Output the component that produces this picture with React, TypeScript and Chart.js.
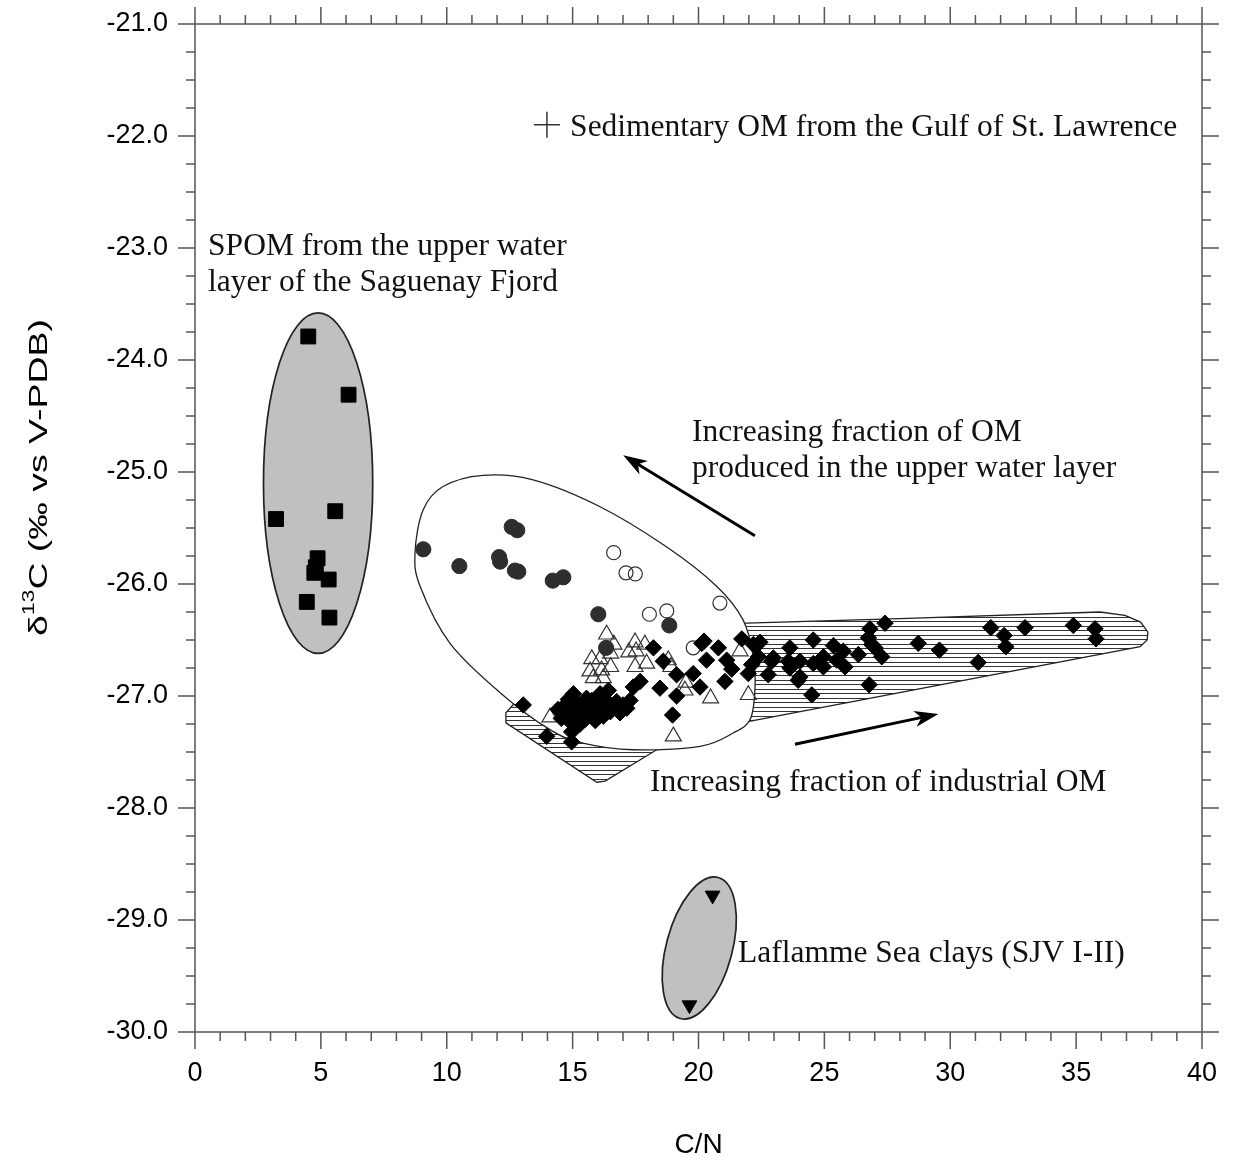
import React, { useEffect, useRef } from 'react';
import { Chart, registerables } from 'chart.js';

Chart.register(...registerables);

// ---- axes ----
const X_MIN = 0;
const X_MAX = 40;
const X_MAJOR = 5;
const X_MINOR_PER_MAJOR = 5;
const Y_MIN = -30;
const Y_MAX = -21;
const Y_MAJOR = 1;
const Y_MINOR_PER_MAJOR = 4;

const X_TITLE = 'C/N';
const Y_TITLE_PARTS = [
  { text: 'δ', sup: false },
  { text: '13', sup: true },
  { text: 'C (‰ vs V-PDB)', sup: false },
];

// ---- data (C/N, δ13C) ----
const spomSquares: [number, number][] = [
  [4.5, -23.79], [6.1, -24.31], [3.22, -25.42], [5.57, -25.35], [4.87, -25.77],
  [4.8, -25.85], [4.74, -25.9], [5.31, -25.96], [4.44, -26.16], [5.34, -26.3],
];

const filledCircles: [number, number][] = [
  [9.07, -25.69], [10.5, -25.84], [12.58, -25.49], [12.8, -25.52], [12.08, -25.76],
  [12.12, -25.8], [12.71, -25.88], [12.84, -25.89], [14.21, -25.97], [14.63, -25.94],
  [16.02, -26.27], [18.84, -26.37], [16.33, -26.57],
];

const openCircles: [number, number][] = [
  [16.63, -25.72], [17.12, -25.9], [17.49, -25.91], [18.05, -26.27], [18.74, -26.24],
  [20.85, -26.17], [19.79, -26.57],
];

const openTriangles: [number, number][] = [
  [16.35, -26.45], [16.64, -26.54], [15.76, -26.67], [16.09, -26.67], [16.51, -26.62],
  [15.69, -26.78], [16.15, -26.77], [16.51, -26.74], [15.82, -26.84], [16.22, -26.84],
  [17.48, -26.52], [17.87, -26.54], [17.23, -26.61], [17.52, -26.6], [17.48, -26.74],
  [17.94, -26.71], [18.8, -26.68], [18.9, -26.74], [19.5, -26.88], [19.46, -26.95],
  [20.48, -27.02], [21.98, -26.99], [14.1, -27.19], [19.0, -27.36], [21.65, -26.6],
];

const diamonds: [number, number][] = [
  [13.04, -27.08], [13.97, -27.36], [14.96, -27.41], [14.96, -27.32],
  [14.42, -27.12], [14.55, -27.2], [14.7, -27.08], [14.76, -27.16], [14.83, -27.03],
  [14.9, -27.23], [15.03, -26.98], [15.05, -27.12], [15.16, -27.19], [15.25, -27.08],
  [15.3, -27.25], [15.42, -27.1], [15.49, -27.21], [15.55, -27.02], [15.62, -27.15],
  [15.76, -27.04], [15.82, -27.15], [15.9, -27.22], [16.0, -27.08], [16.09, -26.98],
  [16.15, -27.12], [16.22, -27.18], [16.3, -27.03], [16.42, -26.95], [16.5, -27.14],
  [16.62, -27.1], [16.75, -27.05], [16.88, -27.15], [17.0, -27.08], [17.15, -27.11],
  [17.28, -27.04], [17.41, -26.92], [17.68, -26.87],
  [18.21, -26.57], [18.6, -26.69], [19.13, -26.81], [18.47, -26.93], [19.13, -27.0],
  [18.97, -27.17], [19.79, -26.8], [20.06, -26.92], [20.22, -26.51], [20.32, -26.68],
  [20.79, -26.57], [21.12, -26.68], [21.32, -26.76], [21.05, -26.87], [21.72, -26.49],
  [21.98, -26.8], [22.18, -26.54], [22.44, -26.52], [22.38, -26.65], [22.11, -26.72],
  [22.77, -26.81], [22.97, -26.66], [22.91, -26.69], [20.13, -26.53],
  [23.63, -26.57], [23.57, -26.69], [23.63, -26.75], [24.03, -26.83], [23.96, -26.86],
  [24.03, -26.69], [24.56, -26.5], [24.5, -26.99], [24.56, -26.71], [24.96, -26.65],
  [24.96, -26.74], [25.36, -26.55], [25.49, -26.68], [25.75, -26.6], [25.82, -26.74],
  [26.35, -26.63], [26.81, -26.4], [27.41, -26.35], [26.75, -26.48], [26.88, -26.54],
  [27.01, -26.57], [27.28, -26.65], [26.78, -26.9], [28.73, -26.53], [29.57, -26.59],
  [31.11, -26.7], [31.61, -26.39], [32.14, -26.46], [32.21, -26.56], [32.97, -26.39],
  [34.89, -26.37], [35.75, -26.4], [35.79, -26.49],
];

const laflammeTriangles: [number, number][] = [[20.56, -28.78], [19.64, -29.76]];

const gulfMarker: [number, number][] = [[13.98, -21.9]];

// ---- envelopes (data coordinates) ----
const spomEllipse = { cx: 4.89, cy: -25.1, rx: 2.17, ry: 1.52, tiltDeg: 0 };
const laflammeEllipse = { cx: 20.03, cy: -29.25, rx: 1.31, ry: 0.652, tiltDeg: 15 };

const omEnvelope: [number, number][] = [
  [11.44, -25.03], [13.43, -25.07], [16.09, -25.31], [18.74, -25.67], [20.72, -26.02],
  [21.77, -26.32], [22.18, -26.65], [22.24, -26.95], [22.05, -27.21], [21.38, -27.33],
  [20.06, -27.45], [17.4, -27.48], [15.41, -27.42], [14.1, -27.3], [12.12, -26.97],
  [10.13, -26.53], [8.94, -26.02], [8.74, -25.72], [9.06, -25.34], [9.85, -25.13],
];

const industrialEnvelope: [number, number][] = [
  [12.71, -27.06], [12.35, -27.15], [12.35, -27.24], [15.96, -27.77], [16.29, -27.76],
  [18.34, -27.48], [21.91, -27.23], [37.54, -26.56], [37.82, -26.5], [37.85, -26.43],
  [37.56, -26.34], [36.94, -26.28], [35.95, -26.25], [28.0, -26.31], [21.91, -26.35],
  [20.06, -26.41],
];

// ---- annotations ----
const labels = [
  { x: 14.9, y: -22.0, lines: ['Sedimentary OM from the Gulf of St. Lawrence'] },
  { x: 0.52, y: -23.06, lines: ['SPOM from the upper water', 'layer of the Saguenay Fjord'] },
  { x: 19.74, y: -24.72, lines: ['Increasing fraction of OM', 'produced in the upper water layer'] },
  { x: 18.07, y: -27.85, lines: ['Increasing fraction of industrial OM'] },
  { x: 21.57, y: -29.375, lines: ['Laflamme Sea clays (SJV I-II)'] },
];

const arrows = [
  { from: [22.24, -25.57], to: [17.01, -24.85] },
  { from: [23.83, -27.43], to: [29.53, -27.16] },
];

const AXIS_COLOR = '#555';
const SANS = "'Liberation Sans', Arial, Helvetica, sans-serif";
const SERIF = "'Liberation Serif', 'Times New Roman', serif";
const LABEL_FONT_SIZE = 31.5;
const LABEL_LINE_GAP = 36.5;

function toPx(chart: any, x: number, y: number): [number, number] {
  return [chart.scales.x.getPixelForValue(x), chart.scales.y.getPixelForValue(y)];
}

function smoothClosedPath(ctx: CanvasRenderingContext2D, pts: [number, number][]) {
  const n = pts.length;
  ctx.moveTo(pts[0][0], pts[0][1]);
  for (let i = 0; i < n; i++) {
    const p0 = pts[(i - 1 + n) % n];
    const p1 = pts[i];
    const p2 = pts[(i + 1) % n];
    const p3 = pts[(i + 2) % n];
    ctx.bezierCurveTo(
      p1[0] + (p2[0] - p0[0]) / 6, p1[1] + (p2[1] - p0[1]) / 6,
      p2[0] - (p3[0] - p1[0]) / 6, p2[1] - (p3[1] - p1[1]) / 6,
      p2[0], p2[1],
    );
  }
  ctx.closePath();
}

function hatchPattern(ctx: CanvasRenderingContext2D) {
  const c = document.createElement('canvas');
  c.width = 16;
  c.height = 9;
  const g = c.getContext('2d')!;
  g.strokeStyle = '#333';
  g.lineWidth = 1;
  g.beginPath();
  g.moveTo(0, 0.5);
  g.lineTo(16, 0.5);
  g.moveTo(0, 5.5);
  g.lineTo(16, 5.5);
  g.stroke();
  return ctx.createPattern(c, 'repeat')!;
}

// Envelopes drawn underneath the markers
const envelopePlugin = {
  id: 'envelopes',
  beforeDatasetsDraw(chart: any) {
    const ctx: CanvasRenderingContext2D = chart.ctx;
    const xs = chart.scales.x;
    const ys = chart.scales.y;
    ctx.save();
    for (const e of [spomEllipse, laflammeEllipse]) {
      const cx = xs.getPixelForValue(e.cx);
      const cy = ys.getPixelForValue(e.cy);
      const rx = Math.abs(xs.getPixelForValue(e.cx + e.rx) - cx);
      const ry = Math.abs(ys.getPixelForValue(e.cy + e.ry) - cy);
      ctx.beginPath();
      ctx.ellipse(cx, cy, rx, ry, (e.tiltDeg * Math.PI) / 180, 0, Math.PI * 2);
      ctx.fillStyle = '#c0c0c0';
      ctx.fill();
      ctx.lineWidth = 1.7;
      ctx.strokeStyle = '#222';
      ctx.stroke();
    }

    ctx.beginPath();
    industrialEnvelope.forEach(([x, y], i) => {
      const [px, py] = toPx(chart, x, y);
      if (i === 0) ctx.moveTo(px, py);
      else ctx.lineTo(px, py);
    });
    ctx.closePath();
    ctx.fillStyle = hatchPattern(ctx);
    ctx.fill();
    ctx.lineWidth = 1.3;
    ctx.strokeStyle = '#222';
    ctx.stroke();

    ctx.beginPath();
    smoothClosedPath(ctx, omEnvelope.map(([x, y]) => toPx(chart, x, y)));
    ctx.fillStyle = '#fff';
    ctx.fill();
    ctx.lineWidth = 1.3;
    ctx.strokeStyle = '#222';
    ctx.stroke();
    ctx.restore();
  },
};

// Arrows and text labels above the markers
const annotationPlugin = {
  id: 'annotations',
  afterDatasetsDraw(chart: any) {
    const ctx: CanvasRenderingContext2D = chart.ctx;
    ctx.save();
    for (const a of arrows) {
      const [x1, y1] = toPx(chart, a.from[0], a.from[1]);
      const [x2, y2] = toPx(chart, a.to[0], a.to[1]);
      const ang = Math.atan2(y2 - y1, x2 - x1);
      const c = Math.cos(ang);
      const s = Math.sin(ang);
      const headLen = 24;
      const headW = 8;
      ctx.strokeStyle = '#000';
      ctx.fillStyle = '#000';
      ctx.lineWidth = 3;
      ctx.beginPath();
      ctx.moveTo(x1, y1);
      ctx.lineTo(x2 - headLen * 0.7 * c, y2 - headLen * 0.7 * s);
      ctx.stroke();
      ctx.beginPath();
      ctx.moveTo(x2, y2);
      ctx.lineTo(x2 - headLen * c + headW * s, y2 - headLen * s - headW * c);
      ctx.lineTo(x2 - headLen * 0.72 * c, y2 - headLen * 0.72 * s);
      ctx.lineTo(x2 - headLen * c - headW * s, y2 - headLen * s + headW * c);
      ctx.closePath();
      ctx.fill();
    }
    ctx.fillStyle = '#111';
    ctx.font = `${LABEL_FONT_SIZE}px ${SERIF}`;
    ctx.textAlign = 'left';
    ctx.textBaseline = 'alphabetic';
    for (const l of labels) {
      const [px, py] = toPx(chart, l.x, l.y);
      l.lines.forEach((line, i) => ctx.fillText(line, px, py + i * LABEL_LINE_GAP));
    }
    ctx.restore();
  },
};

// Frame, major/minor ticks on all four sides, rotated y title
const framePlugin = {
  id: 'frame',
  afterDraw(chart: any) {
    const ctx: CanvasRenderingContext2D = chart.ctx;
    const a = chart.chartArea;
    const xs = chart.scales.x;
    const ys = chart.scales.y;
    const MAJOR_LEN = 17;
    const MINOR_LEN = 9;
    ctx.save();
    ctx.strokeStyle = AXIS_COLOR;
    ctx.lineWidth = 1.5;
    ctx.strokeRect(a.left, a.top, a.right - a.left, a.bottom - a.top);
    ctx.beginPath();
    const xSteps = ((X_MAX - X_MIN) / X_MAJOR) * X_MINOR_PER_MAJOR;
    for (let i = 0; i <= xSteps; i++) {
      const v = X_MIN + (i * X_MAJOR) / X_MINOR_PER_MAJOR;
      const p = xs.getPixelForValue(v);
      const len = i % X_MINOR_PER_MAJOR === 0 ? MAJOR_LEN : MINOR_LEN;
      ctx.moveTo(p, a.bottom);
      ctx.lineTo(p, a.bottom + len);
      ctx.moveTo(p, a.top);
      ctx.lineTo(p, a.top - len);
    }
    const ySteps = ((Y_MAX - Y_MIN) / Y_MAJOR) * Y_MINOR_PER_MAJOR;
    for (let i = 0; i <= ySteps; i++) {
      const v = Y_MIN + (i * Y_MAJOR) / Y_MINOR_PER_MAJOR;
      const p = ys.getPixelForValue(v);
      const len = i % Y_MINOR_PER_MAJOR === 0 ? MAJOR_LEN : MINOR_LEN;
      ctx.moveTo(a.left, p);
      ctx.lineTo(a.left - len, p);
      ctx.moveTo(a.right, p);
      ctx.lineTo(a.right + len, p);
    }
    ctx.stroke();

    // y title: δ13C with raised "13"
    const mainSize = 26;
    const supSize = 16;
    const centerY = ys.getPixelForValue(-25.05);
    ctx.translate(40, centerY);
    ctx.rotate(-Math.PI / 2);
    const widths = Y_TITLE_PARTS.map((p) => {
      ctx.font = `${p.sup ? supSize : mainSize}px ${SANS}`;
      return ctx.measureText(p.text).width;
    });
    const total = widths.reduce((s, w) => s + w, 0);
    const stretch = 317 / total;
    ctx.scale(stretch, 1);
    ctx.fillStyle = '#000';
    ctx.textBaseline = 'middle';
    ctx.textAlign = 'left';
    let cursor = -total / 2;
    Y_TITLE_PARTS.forEach((p, i) => {
      ctx.font = `${p.sup ? supSize : mainSize}px ${SANS}`;
      ctx.fillText(p.text, cursor, p.sup ? -10 : 0);
      cursor += widths[i];
    });
    ctx.restore();
  },
};

// keep tick-label overhang from shrinking the plot area
const noScalePadding = (scale: any) => {
  scale.paddingTop = 0;
  scale.paddingBottom = 0;
  scale.paddingLeft = 0;
  scale.paddingRight = 0;
};

const toPoints = (arr: [number, number][]) => arr.map(([x, y]) => ({ x, y }));

export default function App() {
  const canvasRef = useRef<HTMLCanvasElement | null>(null);

  useEffect(() => {
    if (!canvasRef.current) return;
    const chart = new Chart(canvasRef.current, {
      type: 'scatter',
      data: {
        datasets: [
          {
            label: 'industrial',
            data: toPoints(diamonds),
            pointStyle: 'rectRot',
            pointRadius: 8.2,
            backgroundColor: '#000',
            borderColor: '#000',
            borderWidth: 1,
            order: 1,
          },
          {
            label: 'filled circles',
            data: toPoints(filledCircles),
            pointStyle: 'circle',
            pointRadius: 7.6,
            backgroundColor: '#2e2e2e',
            borderColor: '#2e2e2e',
            borderWidth: 1,
            order: 2,
          },
          {
            label: 'open triangles',
            data: toPoints(openTriangles),
            pointStyle: 'triangle',
            pointRadius: 9.2,
            backgroundColor: 'rgba(0,0,0,0)',
            borderColor: '#333',
            borderWidth: 1.2,
            order: 3,
          },
          {
            label: 'open circles',
            data: toPoints(openCircles),
            pointStyle: 'circle',
            pointRadius: 7,
            backgroundColor: 'rgba(0,0,0,0)',
            borderColor: '#333',
            borderWidth: 1.2,
            order: 4,
          },
          {
            label: 'SPOM',
            data: toPoints(spomSquares),
            pointStyle: 'rect',
            pointRadius: 10.5,
            backgroundColor: '#000',
            borderColor: '#000',
            borderWidth: 1,
            order: 1,
          },
          {
            label: 'Laflamme Sea clays',
            data: toPoints(laflammeTriangles),
            pointStyle: 'triangle',
            pointRotation: 180,
            pointRadius: 8.5,
            backgroundColor: '#000',
            borderColor: '#000',
            borderWidth: 1,
            order: 1,
          },
          {
            label: 'Gulf of St. Lawrence',
            data: toPoints(gulfMarker),
            pointStyle: 'cross',
            pointRadius: 13,
            borderColor: '#333',
            borderWidth: 1.5,
            order: 1,
          },
        ],
      },
      options: {
        responsive: false,
        animation: false,
        devicePixelRatio: 1,
        layout: { padding: { left: 0, right: 31, top: 24, bottom: 0 } },
        plugins: {
          legend: { display: false },
          tooltip: { enabled: false },
        },
        scales: {
          x: {
            type: 'linear',
            min: X_MIN,
            max: X_MAX,
            grid: { display: false, drawTicks: false },
            border: { display: false },
            ticks: {
              stepSize: X_MAJOR,
              autoSkip: false,
              maxRotation: 0,
              padding: 25,
              color: '#000',
              font: { family: SANS, size: 27 },
            },
            title: {
              display: true,
              text: X_TITLE,
              color: '#000',
              font: { family: SANS, size: 28 },
              padding: { top: 0, bottom: 6 },
            },
            afterFit: (scale: any) => {
              scale.height = 136;
              noScalePadding(scale);
            },
          },
          y: {
            type: 'linear',
            min: Y_MIN,
            max: Y_MAX,
            grid: { display: false, drawTicks: false },
            border: { display: false },
            ticks: {
              stepSize: Y_MAJOR,
              autoSkip: false,
              padding: 27,
              color: '#000',
              font: { family: SANS, size: 27 },
              callback: (v: any) => Number(v).toFixed(1),
            },
            afterFit: (scale: any) => {
              scale.width = 195;
              noScalePadding(scale);
            },
          },
        },
      },
      plugins: [envelopePlugin, annotationPlugin, framePlugin],
    } as any);
    return () => chart.destroy();
  }, []);

  return (
    <div style={{ position: 'fixed', left: 0, top: 0, width: 1233, height: 1168, background: '#fff' }}>
      <canvas ref={canvasRef} width={1233} height={1168} style={{ display: 'block' }} />
    </div>
  );
}
